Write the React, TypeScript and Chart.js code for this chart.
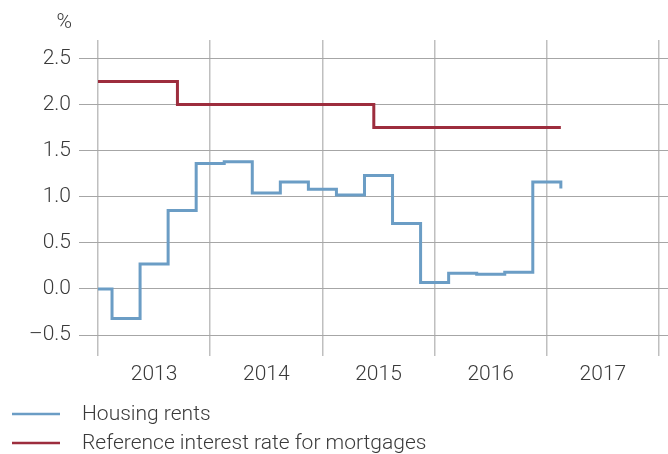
import React, { useEffect, useRef } from "react";
import { Chart, registerables } from "chart.js";

Chart.register(...registerables);

// Housing rents: change dates (decimal years) and values in %
const rentDates = [
  2013.0, 2013.125, 2013.375, 2013.625, 2013.875, 2014.125, 2014.375, 2014.625,
  2014.875, 2015.125, 2015.375, 2015.625, 2015.875, 2016.125, 2016.375, 2016.625,
  2016.875, 2017.125,
];
const rentValues = [
  0.0, -0.32, 0.27, 0.85, 1.36, 1.38, 1.04, 1.16, 1.08, 1.02, 1.23, 0.71, 0.07,
  0.17, 0.16, 0.18, 1.16, 1.09,
];

// Reference interest rate for mortgages
const rateDates = [2013.0, 2013.708, 2015.458, 2017.125];
const rateValues = [2.25, 2.0, 1.75, 1.75];

const yearLabels = [2013, 2014, 2015, 2016, 2017];
const yTickValues = [-0.5, 0, 0.5, 1.0, 1.5, 2.0, 2.5];
const seriesNames = ["Housing rents", "Reference interest rate for mortgages"];
const unitLabel = "%";

const FONT = "Roboto, 'Helvetica Neue', Arial, sans-serif";
const TEXT = "#3a3a3a";
const BLUE = "#6b9dc5";
const RED = "#9d2d3d";
const FS = 21;

export default function App() {
  const ref = useRef<HTMLCanvasElement>(null);

  useEffect(() => {
    if (!ref.current) return;
    const xTicks: number[] = [];
    yearLabels.forEach((y) => {
      xTicks.push(y, y + 0.5);
    });
    xTicks.push(yearLabels[yearLabels.length - 1] + 1);

    const legendPlugin = {
      id: "customLegend",
      afterDraw(chart: any) {
        const ctx = chart.ctx as CanvasRenderingContext2D;
        ctx.save();
        ctx.font = `300 ${FS}px ${FONT}`;
        ctx.textBaseline = "middle";
        chart.data.datasets.forEach((ds: any, i: number) => {
          const y = 414 + i * 29;
          ctx.strokeStyle = ds.borderColor;
          ctx.lineWidth = 2.5;
          ctx.beginPath();
          ctx.moveTo(12, y);
          ctx.lineTo(60, y);
          ctx.stroke();
          ctx.fillStyle = TEXT;
          ctx.textAlign = "left";
          ctx.fillText(ds.label, 82, y + 1);
        });
        ctx.textAlign = "right";
        ctx.fillStyle = TEXT;
        ctx.fillText(unitLabel, 72, 23);
        ctx.restore();
      },
    };

    const chart = new Chart(ref.current, {
      type: "line",
      data: {
        datasets: [
          {
            label: seriesNames[0],
            data: rentDates.map((x, i) => ({ x, y: rentValues[i] })),
            borderColor: BLUE,
            backgroundColor: BLUE,
            borderWidth: 3,
            stepped: true,
            pointRadius: 0,
            fill: false,
          },
          {
            label: seriesNames[1],
            data: rateDates.map((x, i) => ({ x, y: rateValues[i] })),
            borderColor: RED,
            backgroundColor: RED,
            borderWidth: 3,
            stepped: true,
            pointRadius: 0,
            fill: false,
          },
        ],
      },
      options: {
        responsive: false,
        animation: false,
        layout: { padding: { top: 40, left: 0, right: 0, bottom: 0 } },
        plugins: {
          legend: { display: false },
          tooltip: { enabled: false },
        },
        scales: {
          x: {
            type: "linear",
            min: 2013,
            max: 2018.08,
            afterBuildTicks: (s: any) => {
              s.ticks = xTicks.map((v) => ({ value: v }));
            },
            afterFit: (s: any) => {
              s.height = 119;
            },
            border: { display: false },
            grid: {
              color: (c: any) =>
                c.tick && Number.isInteger(c.tick.value) ? "#bfbfbf" : "rgba(0,0,0,0)",
              lineWidth: 1.5,
              tickLength: 21,
              drawTicks: true,
            },
            ticks: {
              autoSkip: false,
              maxRotation: 0,
              padding: 6,
              color: TEXT,
              font: { family: FONT, size: FS, weight: "300" as any },
              callback: (v: any) => {
                const n = Number(v);
                return Math.abs(n % 1 - 0.5) < 1e-6 ? String(Math.floor(n)) : "";
              },
            },
          },
          y: {
            type: "linear",
            min: -0.5,
            max: 2.7,
            afterBuildTicks: (s: any) => {
              s.ticks = yTickValues.map((v) => ({ value: v }));
            },
            afterFit: (s: any) => {
              s.width = 98;
            },
            border: { display: false },
            grid: {
              color: "#a6a6a6",
              lineWidth: 1,
              tickLength: 19,
              drawTicks: true,
            },
            ticks: {
              padding: 8,
              color: TEXT,
              font: { family: FONT, size: FS, weight: "300" as any },
              callback: (v: any) => {
                const n = Number(v);
                return (n < 0 ? "\u2013" : "") + Math.abs(n).toFixed(1);
              },
            },
          },
        },
      },
      plugins: [legendPlugin],
    });
    return () => chart.destroy();
  }, []);

  return (
    <div style={{ position: "fixed", left: 0, top: 0, width: 668, height: 454, background: "#fff" }}>
      <canvas ref={ref} width={668} height={454} style={{ display: "block" }} />
    </div>
  );
}
